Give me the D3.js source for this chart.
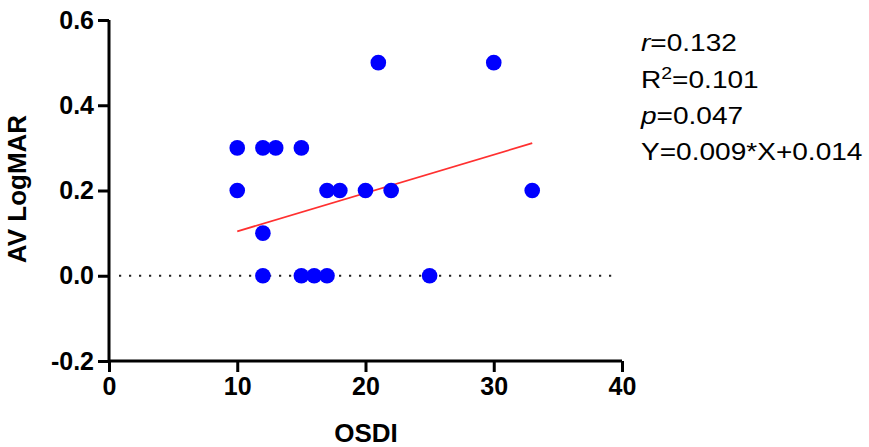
<!DOCTYPE html>
<html>
<head>
<meta charset="utf-8">
<script src="https://cdn.jsdelivr.net/npm/d3@7"></script>
<style>
  body { margin: 0; background: #fff; }
  text { font-family: "Liberation Sans", Arial, sans-serif; }
</style>
</head>
<body>
<svg id="chart" width="869" height="447"></svg>
<script>
// data
var osdi   = [10, 10, 12, 12, 12, 13, 15, 15, 16, 17, 17, 18, 20, 21, 22, 25, 30, 33];
var logmar = [0.3, 0.2, 0.3, 0.1, 0.0, 0.3, 0.3, 0.0, 0.0, 0.2, 0.0, 0.2, 0.2, 0.5, 0.2, 0.0, 0.5, 0.2];
var fitX = [10, 33];
var slope = 0.009, intercept = 0.014;
var xTicks = [0, 10, 20, 30, 40];
var yTicks = [-0.2, 0.0, 0.2, 0.4, 0.6];

var svg = d3.select("#chart");

var x = d3.scaleLinear().domain([0, 40]).range([109, 622]);
var y = d3.scaleLinear().domain([-0.2, 0.6]).range([361, 20]);

// y axis
var yAxis = svg.append("g")
    .attr("transform", "translate(109,0)")
    .call(d3.axisLeft(y).tickValues(yTicks)
        .tickFormat(function(d) { return d3.format(".1f")(d).replace("\u2212", "-"); })
        .tickSize(11).tickPadding(4));

// x axis
var xAxis = svg.append("g")
    .attr("transform", "translate(0,361)")
    .call(d3.axisBottom(x).tickValues(xTicks).tickFormat(d3.format("d")).tickSize(11).tickPadding(5));

[xAxis, yAxis].forEach(function(a) {
	a.select(".domain").attr("stroke", "#000").attr("stroke-width", 3)
	a.selectAll(".tick line").attr("stroke", "#000").attr("stroke-width", 3);
	a.selectAll(".tick text")
		.attr("fill", "#000")
		.style("font-size", "25px")
		.style("font-weight", "bold")
		.style("font-family", "'Liberation Sans', Arial, sans-serif");
});
xAxis.select(".domain").attr("d", "M109,0H622");
yAxis.select(".domain").attr("d", "M0,20V361");

// dotted zero line
svg.append("line")
    .attr("x1", x(0) + 10).attr("x2", x(39.5))
    .attr("y1", y(0)).attr("y2", y(0))
    .attr("stroke", "#222")
    .attr("stroke-width", 2.2)
    .attr("stroke-dasharray", "2.2,7.8");

// regression line
svg.append("line")
    .attr("x1", x(fitX[0])).attr("x2", x(fitX[1]))
    .attr("y1", y(slope * fitX[0] + intercept))
    .attr("y2", y(slope * fitX[1] + intercept))
    .attr("stroke", "#ff3030")
    .attr("stroke-width", 1.8);

// points
svg.selectAll("circle")
    .data(osdi)
    .enter().append("circle")
    .attr("cx", function(d) { return x(d); })
    .attr("cy", function(d, i) { return y(logmar[i]); })
    .attr("r", 7.8)
    .style("fill", "#0000ff");

// axis titles
svg.append("text")
    .attr("transform", "translate(26,189) rotate(-90)")
    .attr("text-anchor", "middle")
    .style("font-size", "26px")
    .style("font-weight", "bold")
    .text("AV LogMAR");

svg.append("text")
    .attr("x", 366).attr("y", 442)
    .attr("text-anchor", "middle")
    .style("font-size", "26px")
    .style("font-weight", "bold")
    .text("OSDI");

// stats text
var st = svg.append("g")
    .attr("transform", "translate(641,0) scale(1.22,1)")
    .style("font-size", "23px");

var t1 = st.append("text").attr("y", 51);
t1.append("tspan").style("font-style", "italic").text("r");
t1.append("tspan").text("=0.132");

var t2 = st.append("text").attr("y", 88);
t2.append("tspan").text("R");
t2.append("tspan").attr("dy", -9).style("font-size", "16px").text("2");
t2.append("tspan").attr("dy", 9).text("=0.101");

var t3 = st.append("text").attr("y", 124);
t3.append("tspan").style("font-style", "italic").text("p");
t3.append("tspan").text("=0.047");

st.append("text").attr("y", 160).text("Y=0.009*X+0.014");
</script>
</body>
</html>
